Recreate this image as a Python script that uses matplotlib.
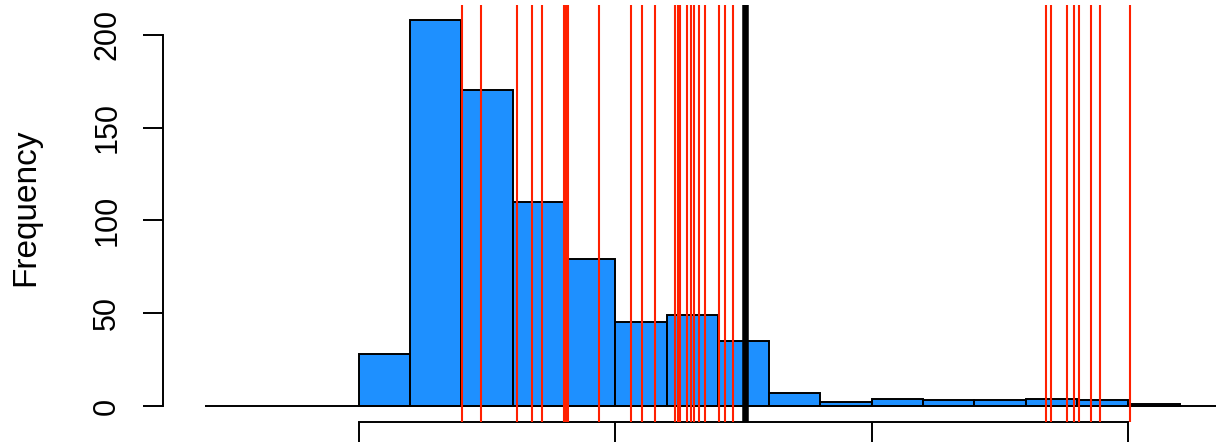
import matplotlib
matplotlib.use("Agg")
import matplotlib.pyplot as plt
import numpy as np

# ---- data ----
bin_edges = list(range(0, 17))
counts = [28, 208, 170, 110, 79, 45, 49, 35, 7, 2, 4, 3, 3, 4, 3, 1]
red_lines = [2.01, 2.38, 3.09, 3.38, 3.57, 4.01, 4.04, 4.07, 4.68,
             5.31, 5.52, 5.78, 6.17, 6.22, 6.26, 6.40, 6.48, 6.54, 6.63, 6.74,
             7.02, 7.14, 7.30,
             13.40, 13.49, 13.81, 13.95, 14.04, 14.27, 14.45, 15.04]
black_line = 7.52
x_ticks = [0, 5, 10, 15]
y_ticks = [0, 50, 100, 150, 200]
y_ticklabels = ["0", "50", "100", "150", "200"]
baseline_start = -3.0

W, H = 1217, 444
fig = plt.figure(figsize=(W / 100, H / 100), dpi=100)
plt.rcParams['font.family'] = ['Liberation Sans', 'DejaVu Sans']

left_px, right_px, top_px, bottom_px = 163, 1216, 5, 421.5
ax = fig.add_axes([left_px / W, 1 - bottom_px / H,
                   (right_px - left_px) / W, (bottom_px - top_px) / H])

ax.set_xlim(-3.815, 16.71)
ax.set_ylim(-8.35, 216.05)

widths = np.diff(bin_edges)
ax.bar(bin_edges[:-1], counts, width=widths, align='edge',
       color='#1E90FF', edgecolor='black', linewidth=1.4, zorder=2)

ax.hlines(0, baseline_start, 16.71, color='black', linewidth=1.4, zorder=3)

for xv in red_lines:
    ax.axvline(xv, color='#FF2000', linewidth=1.5, zorder=4)
ax.axvline(black_line, color='black', linewidth=4.7, zorder=5)

for s in ['top', 'right']:
    ax.spines[s].set_visible(False)
ax.spines['left'].set_bounds(0, 200)
ax.spines['bottom'].set_bounds(0, 15)
ax.spines['left'].set_linewidth(1.4)
ax.spines['bottom'].set_linewidth(1.4)

ax.set_xticks(x_ticks)
ax.set_xticklabels([])
ax.set_yticks(y_ticks)
ax.set_yticklabels(y_ticklabels, rotation=90, va='center', fontsize=22)
ax.tick_params(axis='both', direction='out', length=14.4, width=1.4)
ax.tick_params(axis='y', pad=15)

fig.text(25.5 / W, 1 - 207.5 / H, 'Frequency', rotation=90,
         ha='center', va='center', fontsize=24)

fig.savefig('out.png', dpi=100)
